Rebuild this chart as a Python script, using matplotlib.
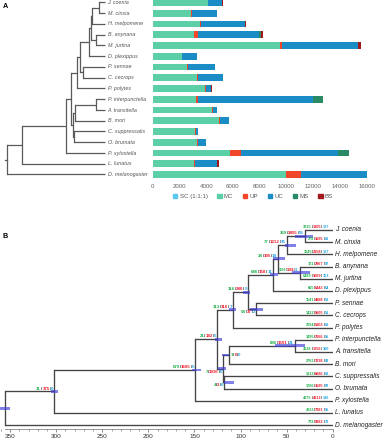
import matplotlib
matplotlib.use("Agg")
import matplotlib.pyplot as plt
from matplotlib.patches import Patch
from matplotlib.offsetbox import TextArea, HPacker, AnnotationBbox
from matplotlib.ticker import MultipleLocator

plt.rcParams['font.family'] = ['Liberation Sans', 'DejaVu Sans']

species = ["J. coenia", "M. cinxia", "H. melpomene", "B. anynana", "M. jurtina",
           "D. plexippus", "P. sennae", "C. cecrops", "P. polytes",
           "P. interpunctella", "A. transitella", "B. mori", "C. suppressalis",
           "O. brumata", "P. xylostella", "L. lunatus", "D. melanogaster"]

# panel A: gene family categories per species
categories = ["SC (1:1:1)", "MC", "UP", "UC", "MS", "BS"]
cat_colors = ["#5bc8ef", "#5ccfa6", "#f0472b", "#1a8cc6", "#2a8a66", "#a3181b"]
sc = [30] * 17
mc = [4080, 2840, 3490, 3090, 9470, 2140, 2570, 3290, 3910, 3240, 4410, 4910, 3140, 3310, 5780, 3040, 9950]
up = [60, 40, 90, 300, 200, 30, 30, 40, 30, 150, 40, 60, 30, 20, 800, 60, 1140]
uc = [1020, 1880, 3290, 4510, 5630, 1140, 2010, 1880, 400, 8550, 340, 740, 200, 660, 7250, 1710, 4880]
ms = [0, 0, 0, 130, 0, 0, 0, 0, 0, 770, 0, 0, 0, 0, 800, 0, 0]
bs = [40, 0, 70, 200, 220, 0, 0, 0, 30, 0, 0, 0, 0, 0, 0, 120, 0]
series = [sc, mc, up, uc, ms, bs]

# panel A tree: (name, depth, children) ; leaves are species names
tree_a = ("root", 7.3, [
    ("tl", 22.3, [
        ("lep", 65.7, [
            ("dit", 71.0, [
                ("pap", 77.3, [
                    ("np", 80.0, [
                        ("nym", 88.5, [
                            ("jmhb", 90.5, [
                                ("jmh", 92.3, [("jm", 99.0, ["J. coenia", "M. cinxia"]), "H. melpomene"]),
                                ("bm", 95.5, ["B. anynana", "M. jurtina"])]),
                            "D. plexippus"]),
                        ("pc", 83.3, ["P. sennae", "C. cecrops"])]),
                    "P. polytes"]),
                ("low", 72.5, [
                    ("pab", 75.0, [("pa", 95.7, ["P. interpunctella", "A. transitella"]), "B. mori"]),
                    ("co", 74.0, ["C. suppressalis", "O. brumata"])])]),
            "P. xylostella"]),
        "L. lunatus"]),
    "D. melanogaster"])
tip_depth_a = 105.0

# panel B: time tree (Ma)
tree_b = ("root", 355.7, [
    ("tl", 302.0, [
        ("lep", 149.0, [
            ("dit", 125.0, [
                ("pap", 108.0, [
                    ("np", 92.0, [
                        ("nym", 64.4, [
                            ("jmhb", 59.0, [
                                ("jmh", 49.6, [("jm", 30.0, ["J. coenia", "M. cinxia"]), "H. melpomene"]),
                                ("bm", 35.5, ["B. anynana", "M. jurtina"])]),
                            "D. plexippus"]),
                        ("pc", 83.0, ["P. sennae", "C. cecrops"])]),
                    "P. polytes"]),
                ("low", 118.5, [
                    ("pab", 113.0, [("pa", 41.0, ["P. interpunctella", "A. transitella"]), "B. mori"]),
                    ("co", 117.5, ["C. suppressalis", "O. brumata"])])]),
            "P. xylostella"]),
        "L. lunatus"]),
    "D. melanogaster"])

hpd = {"root": (350, 362), "tl": (298, 306), "lep": (142.5, 153), "dit": (120, 127.6),
       "pap": (105, 113), "np": (89.6, 97.6), "pc": (75.6, 89.7), "nym": (59, 68),
       "jmhb": (51.7, 64.6), "jmh": (39.8, 51.7), "bm": (24.6, 44), "jm": (21.4, 40.9),
       "pa": (30, 62.6), "low": (116, 124.7), "pab": (112.5, 119.7), "co": (106.7, 117.6)}

# gained / lost / ... counts
tip_counts = {"J. coenia": (3215, 1305, 127), "M. cinxia": (278, 1685, 63),
              "H. melpomene": (1545, 2158, 127), "B. anynana": (721, 2967, 97),
              "M. jurtina": (6489, 1089, 153), "D. plexippus": (665, 6443, 64),
              "P. sennae": (1141, 4888, 58), "C. cecrops": (1423, 5605, 53),
              "P. polytes": (2094, 5303, 63), "P. interpunctella": (1495, 2066, 95),
              "A. transitella": (2238, 1256, 100), "B. mori": (2783, 3238, 83),
              "C. suppressalis": (1813, 6686, 69), "O. brumata": (1786, 3595, 82),
              "P. xylostella": (4075, 4012, 136), "L. lunatus": (4223, 7381, 95),
              "D. melanogaster": (772, 9383, 78)}
node_counts = {"tl": (31, 375, 0), "lep": (679, 1605, 5), "dit": (21, 182, 5),
               "pap": (113, 316, 7), "np": (116, 240, 9), "pc": (54, 37, 2),
               "nym": (646, 158, 11), "jmhb": (34, 105, 14), "jmh": (77, 1212, 76),
               "jm": (369, 3455, 56), "bm": (1099, 1084, 71), "pa": (686, 1591, 21),
               "low": (7, 1936, 0), "pab": (1, 0, 0), "co": (4, 2, 0)}
label_below = ["pc", "low", "co"]
label_right = ["pab"]
num_colors = ["#1fb24a", "#ec1c2e", "#1ea5e6"]


def draw_tree(ax, node, tip_x, nodes, color, lw):
    if isinstance(node, str):
        return tip_x, species.index(node)
    name, x, kids = node
    pts = [draw_tree(ax, k, tip_x, nodes, color, lw) for k in kids]
    for cx, cy in pts:
        ax.plot([x, cx], [cy, cy], color=color, lw=lw, solid_capstyle='butt')
    ys = [p[1] for p in pts]
    ax.plot([x, x], [min(ys), max(ys)], color=color, lw=lw, solid_capstyle='projecting')
    y = (min(ys) + max(ys)) / 2
    nodes[name] = (x, y)
    return x, y


def count_label(ax, x, y, nums, fs, align, offset):
    parts = []
    for i, (n, c) in enumerate(zip(nums, num_colors)):
        if i:
            parts.append(TextArea("/", textprops=dict(color="#222222", fontsize=fs, fontweight='bold')))
        parts.append(TextArea(str(n), textprops=dict(color=c, fontsize=fs, fontweight='bold')))
    box = HPacker(children=parts, align='baseline', pad=0, sep=0)
    ab = AnnotationBbox(box, (x, y), xybox=offset, xycoords='data', boxcoords='offset points',
                        box_alignment=align, frameon=False, pad=0, annotation_clip=False)
    ax.add_artist(ab)


fig = plt.figure(figsize=(3.83, 4.40), dpi=100)
W, H = 383.0, 440.0

# ---------- panel A ----------
row_a = 10.75
a_bottom = 1 - (2.5 + 16.5 * row_a) / H
a_height = 16.75 * row_a / H
ax_bar = fig.add_axes([152.7 / W, a_bottom, 214 / W, a_height])
ax_tree = fig.add_axes([0, a_bottom, 152.7 / W, a_height])

left = [0] * len(species)
for vals, col, lab in zip(series, cat_colors, categories):
    ax_bar.barh(range(len(species)), vals, left=left, height=0.62, color=col, label=lab, linewidth=0)
    left = [l + v for l, v in zip(left, vals)]
ax_bar.set_xlim(0, 16000)
ax_bar.set_ylim(16.5, -0.25)
ax_bar.set_yticks([])
ax_bar.set_xticks(range(0, 16001, 2000))
ax_bar.tick_params(axis='x', length=0, pad=3, labelsize=4.4, labelcolor="#666666")
for s in ax_bar.spines.values():
    s.set_visible(False)
handles = [Patch(color=c) for c in cat_colors]
ax_bar.legend(handles, categories, loc='center', bbox_to_anchor=(0.469, -0.093), ncol=6,
              frameon=False, fontsize=4.4, labelcolor="#555555", handlelength=0.7,
              handleheight=0.7, handletextpad=0.35, columnspacing=1.6, borderpad=0)

nodes_a = {}
draw_tree(ax_tree, tree_a, tip_depth_a, nodes_a, "#5a5a5a", 0.9)
rx, ry = nodes_a["root"]
ax_tree.plot([rx - 2.3, rx], [ry, ry], color="#5a5a5a", lw=0.9)
for i, sp in enumerate(species):
    ax_tree.text(tip_depth_a + 2.5, i, sp, fontsize=3.9, style='italic', color="#555555",
                 va='center', ha='left')
ax_tree.set_xlim(0, 152.7)
ax_tree.set_ylim(16.5, -0.25)
ax_tree.axis('off')

fig.text(2.6 / W, 1 - 6.6 / H, "A", fontsize=5.2, fontweight='bold', va='center', ha='left')
fig.text(2.6 / W, 1 - 236.7 / H, "B", fontsize=5.2, fontweight='bold', va='center', ha='left')

# ---------- panel B ----------
row_b = 12.2
ax_b = fig.add_axes([0, (H - 429.3) / H, 332.7 / W, 17.34 * row_b / H])
nodes_b = {}
draw_tree(ax_b, tree_b, 0.0, nodes_b, "#444444", 0.95)
for name, (lo, hi) in hpd.items():
    x, y = nodes_b[name]
    ax_b.barh(y, hi - lo, left=lo, height=0.24, color="#3d3ddb", alpha=0.65, linewidth=0, zorder=3)
for i, sp in enumerate(species):
    ax_b.text(-2.8, i, sp, fontsize=4.7, style='italic', color="#222222", va='center', ha='left')
    count_label(ax_b, 0, i, tip_counts[sp], 2.8, (1, 0), (-2.7, 0.6))
for name, nums in node_counts.items():
    x, y = nodes_b[name]
    fs = 2.3 if name == "bm" else 3.2
    if name in label_below:
        count_label(ax_b, x, y, nums, fs, (1, 1), (-0.8, -0.6))
    elif name in label_right:
        count_label(ax_b, x, y, nums, fs, (0, 0.5), (1.5, 0))
    else:
        count_label(ax_b, x, y, nums, fs, (1, 0), (-0.8, 0.6))

ax_b.set_xlim(361, 0)
ax_b.set_ylim(16.34, -1)
ax_b.set_yticks([])
ax_b.xaxis.set_major_locator(MultipleLocator(50))
ax_b.xaxis.set_minor_locator(MultipleLocator(10))
ax_b.tick_params(axis='x', which='major', length=2.2, width=0.6, color="#777777",
                 labelsize=4.6, labelcolor="#333333", pad=1.5)
ax_b.tick_params(axis='x', which='minor', length=1.3, width=0.5, color="#777777")
for k in ['top', 'left', 'right']:
    ax_b.spines[k].set_visible(False)
ax_b.spines['bottom'].set_color("#888888")
ax_b.spines['bottom'].set_linewidth(0.6)
ax_b.spines['bottom'].set_bounds(356, 0)

fig.savefig("out.png", dpi=100)
